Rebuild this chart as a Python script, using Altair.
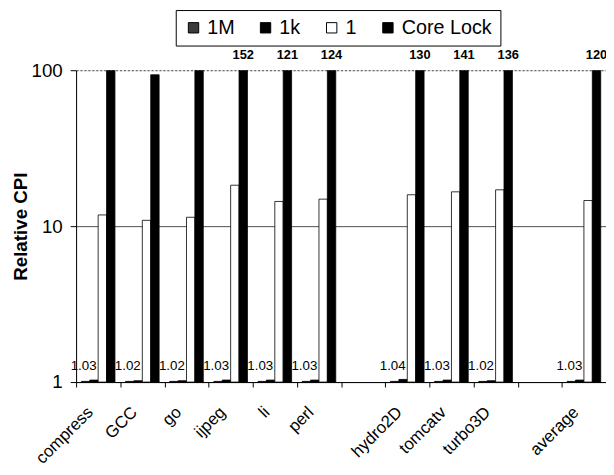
import altair as alt
import pandas as pd

# ---- data ----
categories = ["compress", "GCC", "go", "ijpeg", "li", "perl",
              "hydro2D", "tomcatv", "turbo3D", "average"]
x_domain = ["compress", "GCC", "go", "ijpeg", "li", "perl", "gap1",
            "hydro2D", "tomcatv", "turbo3D", "gap2", "average"]
series = ["1M", "1k", "1", "Core Lock"]
val_1M = [1.01, 1.01, 1.01, 1.01, 1.01, 1.01, 1.01, 1.01, 1.01, 1.01]
val_1k = [1.03, 1.02, 1.02, 1.03, 1.03, 1.03, 1.04, 1.03, 1.02, 1.03]
val_1 = [11.8, 10.9, 11.4, 18.3, 14.4, 14.9, 15.9, 16.6, 17.1, 14.6]
val_core = [100, 93.5, 100, 152, 121, 124, 130, 141, 136, 120]
series_colors = ["#3a3a3a", "#000000", "#ffffff", "#000000"]

FONT = "Liberation Sans"

rows = []
for s, vals in zip(series, [val_1M, val_1k, val_1, val_core]):
    for c, v in zip(categories, vals):
        rows.append({"category": c, "series": s, "value": v, "base": 1})
df = pd.DataFrame(rows)

over = df[(df["series"] == "Core Lock") & (df["value"] > 100)].copy()
over["label"] = over["value"].map(lambda v: f"{v:.0f}")
over["value"] = 100

small = df[df["series"] == "1k"].copy()
small["series"] = "1M"
small["label"] = small["value"].map(lambda v: f"{v:.2f}")
small["value"] = 1

x_scale = alt.Scale(domain=x_domain, paddingInner=0, paddingOuter=0)
xo_scale = alt.Scale(domain=series, paddingInner=0, paddingOuter=0.63)
y_scale = alt.Scale(type="log", domain=[1, 100])

x_axis = alt.Axis(
    tickBand="extent", labelAngle=-45, labelAlign="right", labelBaseline="top",
    labelOffset=-14, labelPadding=17, labelFontSize=17, labelFont=FONT,
    labelColor="black", domainColor="black", domainWidth=1,
    tickColor="black", tickSize=5, grid=False,
    labelExpr="indexof(['gap1','gap2'], datum.value) >= 0 ? '' : datum.value",
)
y_axis = alt.Axis(
    values=[1, 10, 100], format="d", labelFontSize=19, labelFont=FONT,
    labelColor="black", labelPadding=8, tickColor="black", tickSize=6,
    domainColor="black", domainWidth=1, grid=True, gridColor="#222",
    gridWidth=0.8, gridOpacity=1,
    gridDash={"condition": {"test": "datum.value == 100", "value": [2, 2]}, "value": []},
    title="Relative CPI", titleFont=FONT, titleFontSize=19, titleFontWeight="bold",
    titleColor="black", titleX=-56, titleY=158, titleAlign="center",
    titleBaseline="middle", titleAngle=-90,
)

X = alt.X("category:N", scale=x_scale, title=None, axis=x_axis)
XO = alt.XOffset("series:N", scale=xo_scale, sort=series)
Y = alt.Y("value:Q", scale=y_scale, title="Relative CPI", axis=y_axis)

bars = alt.Chart(df).mark_bar(clip=True, stroke="black", strokeWidth=0.8).encode(
    x=X, xOffset=XO, y=Y,
    y2="base:Q",
    fill=alt.Fill(
        "series:N", sort=series,
        scale=alt.Scale(domain=series, range=series_colors),
        legend=alt.Legend(
            orient="none", legendX=101, legendY=-61, direction="horizontal",
            title=None, strokeColor="black", fillColor="white", padding=8,
            symbolType="square", symbolSize=110, symbolStrokeColor="black",
            symbolStrokeWidth=1, labelFontSize=20, labelFont=FONT,
            labelColor="black", labelOffset=4, columnPadding=21,
        ),
    ),
)

over_text = alt.Chart(over).mark_text(
    fontSize=13, fontWeight="bold", font=FONT, dy=-15, baseline="middle", color="black"
).encode(x=X, xOffset=XO, y=Y, text="label:N")

small_text = alt.Chart(small).mark_text(
    fontSize=13.5, font=FONT, dy=-16, dx=-2, baseline="middle", color="black"
).encode(x=X, xOffset=XO, y=Y, text="label:N")

chart = alt.layer(bars, over_text, small_text).properties(
    width=537, height=316,
    autosize=alt.AutoSizeParams(type="none"),
    padding={"left": 69, "top": 60, "right": 0, "bottom": 83},
).configure_view(stroke=None).configure(background="white")

chart.save("out.html", embed_options={"renderer": "svg", "actions": False})
